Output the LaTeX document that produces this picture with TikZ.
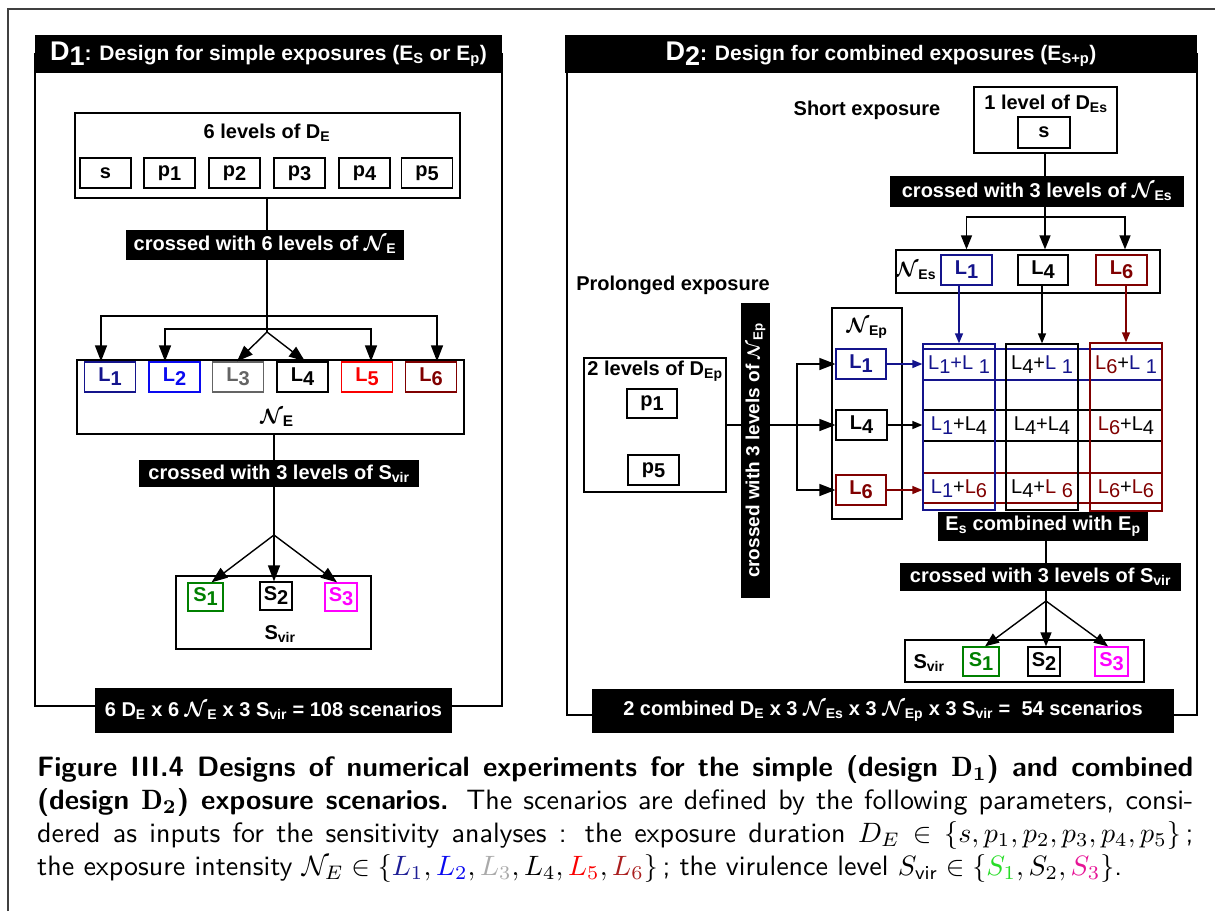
\documentclass[tikz,border=0pt]{standalone}
\usepackage{amsmath}
\usepackage{fontspec}
\usetikzlibrary{arrows.meta}
\newfontfamily\af{Liberation Sans}
\definecolor{cnavy}{RGB}{20,20,140}
\definecolor{cblue}{RGB}{10,10,240}
\definecolor{cgray}{RGB}{100,100,100}
\definecolor{cred}{RGB}{250,0,0}
\definecolor{cdred}{RGB}{128,0,0}
\definecolor{cgreen}{RGB}{0,128,0}
\definecolor{cmag}{RGB}{255,0,255}
\definecolor{kgray}{RGB}{170,170,170}
\definecolor{kgreen}{RGB}{40,220,40}
\definecolor{kmag}{RGB}{230,20,150}
\definecolor{kdred}{RGB}{170,30,30}
\definecolor{knavy}{RGB}{30,30,150}
\newcommand{\fs}[1]{\fontsize{#1}{#1}\selectfont}
\newcommand{\dg}[1]{\raisebox{-0.2em}{#1}}
\newcommand{\NN}{{\boldmath$\mathcal{N}$}}
\newcommand{\Lc}[2]{\textcolor{#1}{L\dg{#2}}}
\newcommand{\Ls}[2]{\textcolor{#1}{L \dg{#2}}}
\newcommand{\capl}[1]{\scalebox{2.8}{\fontsize{10}{12}\selectfont\sffamily\mdseries #1}}
\tikzset{
 frm/.style={draw, line width=1.3pt, inner sep=0pt},
 lvl/.style={draw, line width=1.3pt, inner sep=0pt, minimum height=30pt},
 bar/.style={fill=black, text=white, inner sep=0pt},
 txt/.style={inner sep=0pt},
 ln/.style={line width=1.4pt},
 arr/.style={line width=1.4pt, -{Triangle[length=16pt,width=12pt]}},
 arrb/.style={line width=1.4pt, -{Triangle[length=14pt,width=11pt]}},
 arrc/.style={line width=1.3pt, -{Triangle[length=10pt,width=8pt]}},
 cell/.style={inner sep=0pt, font=\af\mdseries\fs{20}},
}
\begin{document}
\begin{tikzpicture}[x=1pt,y=-1pt,font=\af\bfseries\fs{20}]
\useasboundingbox (0,0) rectangle (1215,911);
\draw[line width=1.2pt, black!75] (8,911) -- (8,9) -- (1215,9);

% ---------------- Left panel D1
\node[frm, minimum width=467pt, minimum height=652pt] (P1) at (268.5,380) {};
\node[bar, minimum width=467pt, minimum height=38pt] (T1) at (268.5,54) {\fs{27}D\dg{1}\fs{21}: Design for simple exposures (E\textsubscript{S} or E\textsubscript{p})};
\node[frm, minimum width=385pt, minimum height=85pt] (DE) at (267.5,155.5) {};
\node[txt] (DEt) at (267,133) {6 levels of D\textsubscript{E}};
\node[lvl, minimum width=51pt] (s) at (105.5,173) {s};
\node[lvl, minimum width=51pt] (p1) at (169.5,173) {p\dg{1}};
\node[lvl, minimum width=51pt] (p2) at (234.5,173) {p\dg{2}};
\node[lvl, minimum width=51pt] (p3) at (299.5,173) {p\dg{3}};
\node[lvl, minimum width=51pt] (p4) at (364.5,173) {p\dg{4}};
\node[lvl, minimum width=51pt] (p5) at (427,173) {p\dg{5}};
\node[bar, minimum width=278pt, minimum height=30pt] (B1) at (265,245) {crossed with 6 levels of \NN\textsubscript{E}};
\coordinate (A1) at (267,332);
\coordinate (Y1) at (267,316);
\coordinate (Y2) at (267,329);
\draw[ln] (DE.south -| A1) -- (B1.north -| A1);
\draw[ln] (B1.south -| A1) -- (A1);
\node[frm, minimum width=387pt, minimum height=74pt] (NE) at (270.5,397) {};
\node[lvl, minimum width=51pt, draw=cnavy, text=cnavy] (L1) at (110,377) {L\dg{1}};
\node[lvl, minimum width=51pt, draw=cblue, text=cblue] (L2) at (174.5,377) {L\dg{2}};
\node[lvl, minimum width=51pt, draw=cgray, text=cgray] (L3) at (238,377) {L\dg{3}};
\node[lvl, minimum width=51pt] (L4) at (302.5,377) {L\dg{4}};
\node[lvl, minimum width=51pt, draw=cred, text=cred] (L5) at (367,377) {L\dg{5}};
\node[lvl, minimum width=51pt, draw=cdred, text=cdred] (L6) at (431,377) {L\dg{6}};
\node[txt] (NEt) at (277,418) {\fs{22}\NN\textsubscript{E}};
\draw[arr] (Y1) -| ([xshift=-9pt]L1.north);
\draw[arr] (Y1) -| ([xshift=6pt]L6.north);
\draw[arr] (Y2) -| ([xshift=-9.5pt]L2.north);
\draw[arr] (Y2) -| ([xshift=4pt]L5.north);
\draw[arr] (A1) -- ([xshift=-1pt]L3.north);
\draw[arr] (A1) -- ([xshift=2.5pt]L4.north);
\node[bar, minimum width=280pt, minimum height=27pt] (B2) at (279,473.5) {crossed with 3 levels of S\textsubscript{vir}};
\coordinate (A2) at (274,535);
\draw[ln] (NE.south -| A2) -- (B2.north -| A2);
\draw[ln] (B2.south -| A2) -- (A2);
\node[frm, minimum width=195pt, minimum height=73pt] (SV) at (273.5,612.5) {};
\node[lvl, minimum width=35pt, minimum height=28pt, draw=cgreen, text=cgreen] (S1) at (205.5,597) {S\dg{1}};
\node[lvl, minimum width=32pt, minimum height=28pt] (S2) at (276,596) {S\dg{2}};
\node[lvl, minimum width=32pt, minimum height=28pt, draw=cmag, text=cmag] (S3) at (341,597) {S\dg{3}};
\node[txt] (SVt) at (280,634) {S\textsubscript{vir}};
\draw[arr] (A2) -- ([xshift=6pt]S1.north);
\draw[arr] (A2) -- (S2.north -| A2);
\draw[arr] (A2) -- ([xshift=-4pt]S3.north);
\node[bar, minimum width=357pt, minimum height=45pt] (R1) at (273.5,710.5) {6 D\textsubscript{E} x 6 \NN\textsubscript{E} x 3 S\textsubscript{vir} = 108 scenarios};

% ---------------- Right panel D2
\node[frm, minimum width=630pt, minimum height=661pt] (P2) at (882,384.5) {};
\node[bar, minimum width=632pt, minimum height=38pt] (T2) at (881,54) {\fs{27}D\dg{2}\fs{21}: Design for combined exposures (E\textsubscript{S+p})};
\node[txt] (SE) at (867,110) {Short exposure};
\node[frm, minimum width=143pt, minimum height=66pt] (DEs) at (1045.5,120) {};
\node[txt] (DEst) at (1046,104) {1 level of D\textsubscript{Es}};
\node[lvl, minimum width=52pt, minimum height=31pt] (ss) at (1044,132.5) {s};
\node[bar, minimum width=294pt, minimum height=31pt] (B3) at (1037,191.5) {crossed with 3 levels of \NN\textsubscript{Es}};
\coordinate (Y3) at (1045,217);
\draw[ln] (DEs.south -| Y3) -- (B3.north -| Y3);
\draw[ln] (B3.south -| Y3) -- (Y3);
\node[frm, minimum width=264pt, minimum height=43pt] (NEs) at (1028,271.5) {};
\node[lvl, minimum width=51pt, draw=cnavy, text=cnavy] (L1s) at (966.5,270) {L\dg{1}};
\node[lvl, minimum width=50pt] (L4s) at (1043,270) {L\dg{4}};
\node[lvl, minimum width=51pt, draw=cdred, text=cdred] (L6s) at (1121.5,270) {L\dg{6}};
\node[txt] (NEst) at (916,271) {\NN\textsubscript{Es}};
\draw[arrb] (Y3) -| (L1s.north |- NEs.north);
\draw[arrb] (Y3) -- (NEs.north -| Y3);
\draw[arrb] (Y3) -| ([xshift=3.5pt]L6s.north |- NEs.north);
\node[txt] (PE) at (673,285) {Prolonged exposure};
\node[frm, minimum width=142pt, minimum height=134pt] (DEp) at (655,425) {};
\node[txt] (DEpt) at (655,371) {2 levels of D\textsubscript{Ep}};
\node[lvl, minimum width=50pt, minimum height=29pt] (pp1) at (652,403.5) {p\dg{1}};
\node[lvl, minimum width=51pt] (pp5) at (653.5,470) {p\dg{5}};
\node[frm, minimum width=70pt, minimum height=211pt] (NEp) at (867,413.5) {};
\node[txt] (NEpt) at (867,328) {\NN\textsubscript{Ep}};
\node[lvl, minimum width=50pt, draw=cnavy, text=cnavy] (L1p) at (861,364) {L\dg{1}};
\node[lvl, minimum width=51pt] (L4p) at (861.5,425) {L\dg{4}};
\node[lvl, minimum width=50pt, draw=cdred, text=cdred] (L6p) at (861,490) {L\dg{6}};
\coordinate (Y4) at (797,425);
\draw[arr] (DEp.east) -- (DEp.east -| L4p.west);
\draw[arr] (Y4) |- (L1p.west);
\draw[arr] (Y4) |- (L6p.west);
\node[bar, rotate=90, minimum width=295pt, minimum height=29pt, font=\af\bfseries\fs{19}] (VB) at (755.5,450.5) {crossed with 3 levels of \NN\textsubscript{Ep}};
% grid
\node[frm, draw=cnavy, minimum width=239pt, minimum height=31pt] (RA) at (1042.5,364.5) {};
\node[frm, minimum width=239pt, minimum height=31pt] (RB) at (1042.5,425.5) {};
\node[frm, draw=cdred, minimum width=239pt, minimum height=30pt] (RC) at (1042.5,488) {};
\node[frm, draw=cnavy, minimum width=72pt, minimum height=166pt] (CA) at (959,427) {};
\node[frm, minimum width=72pt, minimum height=166pt] (CB) at (1042,427) {};
\node[frm, draw=cdred, minimum width=72pt, minimum height=168pt] (CC) at (1126,427) {};
\node[cell] (c11) at (959,365) {\Lc{cnavy}{1}\textcolor{cnavy}{+}\Ls{cnavy}{1}};
\node[cell] (c12) at (1042,365) {\Lc{black}{4}+\Ls{cnavy}{1}};
\node[cell] (c13) at (1126,365) {\Lc{cdred}{6}+\Ls{cnavy}{1}};
\node[cell] (c21) at (959,426) {\Lc{cnavy}{1}+\Lc{black}{4}};
\node[cell] (c22) at (1042,426) {\Lc{black}{4}+\Lc{black}{4}};
\node[cell] (c23) at (1126,426) {\Lc{cdred}{6}+\Lc{black}{4}};
\node[cell] (c31) at (959,489) {\Lc{cnavy}{1}+\Lc{cdred}{6}};
\node[cell] (c32) at (1042,489) {\Lc{black}{4}+\Ls{cdred}{6}};
\node[cell] (c33) at (1126,489) {\Lc{cdred}{6}+\Lc{cdred}{6}};
\draw[arrc, cnavy] (CA.north |- L1s.south) -- (CA.north);
\draw[arrc] (CB.north |- L4s.south) -- (CB.north);
\draw[arrc, cdred] (CC.north |- L6s.south) -- (CC.north);
\draw[arrc, cnavy] (L1p.east) -- (L1p.east -| CA.west);
\draw[arrc] (L4p.east) -- (L4p.east -| CA.west);
\draw[arrc, cdred] (L6p.east) -- (L6p.east -| CA.west);
\node[bar, minimum width=210pt, minimum height=29pt] (B4) at (1043,526.5) {E\textsubscript{s} combined with E\textsubscript{p}};
\node[bar, minimum width=281pt, minimum height=28pt] (B5) at (1040.5,577) {crossed with 3 levels of S\textsubscript{vir}};
\coordinate (A3) at (1046,601);
\draw[ln] (B4.south -| A3) -- (B5.north -| A3);
\draw[ln] (B5.south -| A3) -- (A3);
\node[frm, minimum width=239pt, minimum height=42pt] (SVr) at (1024.5,661) {};
\node[lvl, minimum width=36pt, minimum height=29pt, draw=cgreen, text=cgreen] (S1r) at (981,661.5) {S\dg{1}};
\node[lvl, minimum width=32pt, minimum height=29pt] (S2r) at (1044,661.5) {S\dg{2}};
\node[lvl, minimum width=33pt, minimum height=29pt, draw=cmag, text=cmag] (S3r) at (1111.5,661.5) {S\dg{3}};
\node[txt] (SVrt) at (929,663) {S\textsubscript{vir}};
\draw[arrb] (A3) -- ([xshift=4pt]S1r.north);
\draw[arrb] (A3) -- (S2r.north -| A3);
\draw[arrb] (A3) -- ([xshift=-3.5pt]S3r.north);
\node[bar, minimum width=582pt, minimum height=44pt] (R2) at (883,711) {2 combined D\textsubscript{E} x 3 \NN\textsubscript{Es} x 3 \NN\textsubscript{Ep} x 3 S\textsubscript{vir} = \ 54 scenarios};

% ---------------- Caption
\begin{scope}[every node/.style={anchor=base west, inner sep=0pt}]
\node (cap1) at (37,776) {\capl{\makebox[412.9pt][s]{\bfseries Figure III.4 Designs of numerical experiments for the simple (design {\boldmath$\mathrm{D}_1$}) and combined}}};
\node (cap2) at (37,809) {\capl{\makebox[412.9pt][s]{{\bfseries (design {\boldmath$\mathrm{D}_2$}) exposure scenarios.} The scenarios are defined by the following parameters, consi-}}};
\node (cap3) at (37,842) {\capl{\makebox[412.9pt][s]{dered as inputs for the sensitivity analyses : the exposure duration $D_E\in\{s,p_1,p_2,p_3,p_4,p_5\}$\,;}}};
\node (cap4) at (37,875) {\capl{the exposure intensity $\mathcal{N}_E\in\{\textcolor{knavy}{L_1},\textcolor{cblue}{L_2},\textcolor{kgray}{L_3},L_4,\textcolor{cred}{L_5},\textcolor{kdred}{L_6}\}$\,; the virulence level $S_{\text{vir}}\in\{\textcolor{kgreen}{S_1},S_2,\textcolor{kmag}{S_3}\}$.}};
\end{scope}
\end{tikzpicture}
\end{document}
